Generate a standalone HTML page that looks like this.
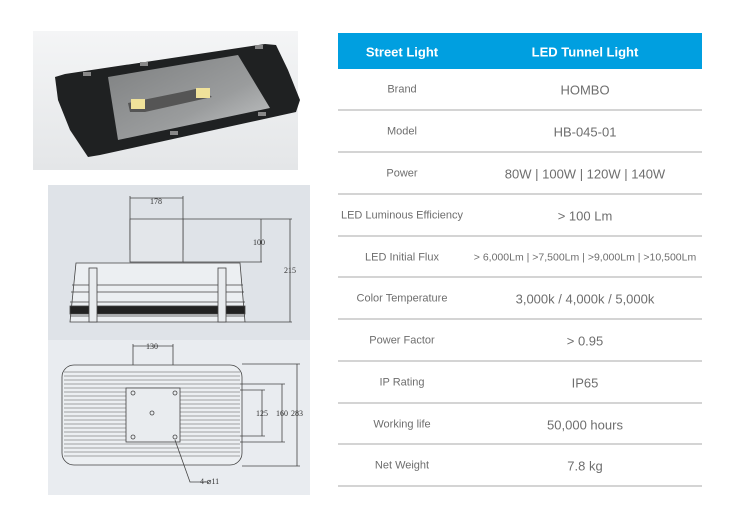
<!DOCTYPE html>
<html><head><meta charset="utf-8"><style>
body{margin:0;width:730px;height:523px;background:#fff;position:relative;overflow:hidden;font-family:"Liberation Sans",Arial,sans-serif}
.r{position:absolute;left:338px;width:364px;border-bottom:2px solid #d4d4d4;color:#6e6e6e}
.r span{position:absolute;top:50%;transform:translate(-50%,-45%);white-space:nowrap}
.a{left:64px;font-size:11px}
.b{left:247px;font-size:13px}
</style></head><body>
<svg width="730" height="523" style="position:absolute;left:0;top:0">
<defs><linearGradient id="pg" x1="0" y1="0" x2="0" y2="1"><stop offset="0" stop-color="#f4f5f6"/><stop offset="1" stop-color="#e4e6e8"/></linearGradient>
<linearGradient id="gl" x1="0" y1="0" x2="1" y2="1"><stop offset="0" stop-color="#7d7f80"/><stop offset="0.6" stop-color="#9a9c9d"/><stop offset="1" stop-color="#c8cacb"/></linearGradient></defs>
<rect x="33" y="31" width="265" height="139" fill="url(#pg)"/>
<path d="M55 77 L65 74 L265 44 L276 45 L288 70 L300 100 L296 112 L100 155 L88 157 L70 130 L58 100 Z" fill="#1f2122"/>
<path d="M108 77 L238 55 L270 108 L118 140 Z" fill="url(#gl)"/>
<path d="M128 103 L182 92 L200 88 L212 97 L145 112 L130 112 Z" fill="#555"/>
<rect x="131" y="99" width="14" height="10" fill="#f0e29a"/>
<rect x="196" y="88" width="14" height="10" fill="#f0e29a"/>
<g fill="#888"><rect x="83" y="72" width="8" height="4"/><rect x="140" y="62" width="8" height="4"/><rect x="255" y="45" width="8" height="4"/><rect x="258" y="112" width="8" height="4"/><rect x="170" y="131" width="8" height="4"/></g>
<rect x="48" y="185" width="262" height="155" fill="#dfe3e8"/>
<rect x="48" y="340" width="262" height="155" fill="#e9ecf0"/>
<g stroke="#444" fill="none" stroke-width="0.8">
<path d="M130 198 H183 M130 196 V250 M183 196 V250"/>
<path d="M130 219 H183 V262 H130 Z" fill="#e3e6ea"/>
<path d="M183 219 H270 M183 262 H262 M261 219 V262 M290 219 V322 M183 219 H292 M245 322 H292"/>
<path d="M76 263 H240 L245 322 H70 Z" fill="#eceff2"/>
<path d="M72 285 H243 M71 292 H244 M70 302 H245"/>
<rect x="70" y="306" width="175" height="8" fill="#222"/>
<path d="M70 316 H245"/>
<rect x="89" y="268" width="8" height="54" fill="#e9ecef"/>
<rect x="218" y="268" width="8" height="54" fill="#e9ecef"/>
<path d="M133 346 H173 M133 344 V410 M173 344 V410"/>
<rect x="62" y="365" width="180" height="100" rx="12" fill="#eceff2"/>
<g stroke="#555" stroke-width="0.6"><path d="M64 372 H240 M64 376 H240 M64 380 H240 M64 384 H240 M64 388 H240 M64 392 H240 M64 396 H240 M64 400 H240 M64 404 H240 M64 408 H240 M64 412 H240 M64 416 H240 M64 420 H240 M64 424 H240 M64 428 H240 M64 432 H240 M64 436 H240 M64 440 H240 M64 444 H240 M64 448 H240 M64 452 H240 M64 456 H240"/></g>
<rect x="126" y="388" width="54" height="54" fill="#e9ecef"/>
<circle cx="133" cy="393" r="2"/><circle cx="175" cy="393" r="2"/><circle cx="133" cy="437" r="2"/><circle cx="175" cy="437" r="2"/><circle cx="152" cy="413" r="2"/>
<path d="M240 390 H265 M240 436 H265 M262 390 V436 M240 384 H285 M240 442 H285 M282 384 V442 M242 364 H300 M242 466 H300 M297 364 V466"/>
<path d="M175 440 L190 482 H208"/>
</g>
<g font-family="Liberation Serif,serif" font-size="8" fill="#333">
<text x="150" y="204">178</text><text x="253" y="245">100</text><text x="284" y="273">215</text>
<text x="146" y="349">130</text><text x="256" y="416">125</text><text x="276" y="416">160</text><text x="291" y="416">283</text><text x="200" y="484">4-⌀11</text>
</g>
</svg>
<div style="position:absolute;left:338px;top:33px;width:364px;height:36px;background:#009fe0;color:#fff;font-weight:bold;font-size:13px">
<span style="position:absolute;left:64px;top:50%;transform:translate(-50%,-45%);white-space:nowrap">Street Light</span>
<span style="position:absolute;left:247px;top:50%;transform:translate(-50%,-45%);white-space:nowrap">LED Tunnel Light</span></div>
<div class="r" style="top:69px;height:40px"><span class="a">Brand</span><span class="b">HOMBO</span></div>
<div class="r" style="top:111px;height:40px"><span class="a">Model</span><span class="b">HB-045-01</span></div>
<div class="r" style="top:153px;height:40px"><span class="a">Power</span><span class="b">80W | 100W | 120W | 140W</span></div>
<div class="r" style="top:195px;height:40px"><span class="a">LED Luminous Efficiency</span><span class="b">&gt; 100 Lm</span></div>
<div class="r" style="top:237px;height:39px"><span class="a">LED Initial Flux</span><span class="b" style="font-size:10.5px">&gt; 6,000Lm | &gt;7,500Lm | &gt;9,000Lm | &gt;10,500Lm</span></div>
<div class="r" style="top:278px;height:40px"><span class="a">Color Temperature</span><span class="b">3,000k / 4,000k / 5,000k</span></div>
<div class="r" style="top:320px;height:40px"><span class="a">Power Factor</span><span class="b">&gt; 0.95</span></div>
<div class="r" style="top:362px;height:40px"><span class="a">IP Rating</span><span class="b">IP65</span></div>
<div class="r" style="top:404px;height:39px"><span class="a">Working life</span><span class="b">50,000 hours</span></div>
<div class="r" style="top:445px;height:40px"><span class="a">Net Weight</span><span class="b">7.8 kg</span></div>
</body></html>
